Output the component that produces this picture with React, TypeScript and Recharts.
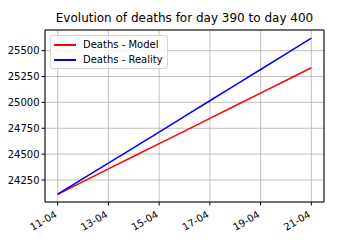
import { LineChart, Line, XAxis, YAxis, CartesianGrid, ReferenceLine } from "recharts";

const dates = ["11-04", "12-04", "13-04", "14-04", "15-04", "16-04", "17-04", "18-04", "19-04", "20-04", "21-04"];
const model = [24112, 24234, 24357, 24479, 24601, 24723, 24846, 24968, 25090, 25212, 25335];
const reality = [24112, 24262, 24412, 24562, 24712, 24864, 25016, 25168, 25318, 25470, 25622];
const xTicks = [0, 2, 4, 6, 8, 10];
const yTicks = [24250, 24500, 24750, 25000, 25250, 25500];

const data = dates.map((d, i) => ({ idx: i, date: d, model: model[i], reality: reality[i] }));

const font = "'DejaVu Sans', sans-serif";

function DateTick(props: any) {
    const { x, y, payload } = props;
    return (
        <text
            transform={`translate(${x},${y + 9}) rotate(-30)`}
            textAnchor="end"
            fontSize={10}
            fontFamily={font}
            fill="#000"
        >
            {dates[payload.value]}
        </text>
    );
}

function LegendBox() {
    const rows = [
        { label: "Deaths - Model", color: "#ff0000" },
        { label: "Deaths - Reality", color: "#0000ff" },
    ];
    return (
        <div
            style={{
                position: "absolute",
                left: 50,
                top: 35,
                border: "1px solid #d6d6d6",
                borderRadius: 3,
                background: "rgba(255,255,255,0.8)",
                padding: "1px 4px 1px 3px",
                fontFamily: font,
                fontSize: 10,
                lineHeight: "15px",
                whiteSpace: "nowrap",
            }}
        >
            {rows.map((r) => (
                <div key={r.label} style={{ display: "flex", alignItems: "center" }}>
                    <span style={{ display: "inline-block", width: 22, height: 2, background: r.color, marginRight: 7 }} />
                    <span>{r.label}</span>
                </div>
            ))}
        </div>
    );
}

export default function App() {
    return (
        <div style={{ position: "fixed", left: 0, top: 0, width: 360, height: 252, background: "#fff" }}>
            <div
                style={{
                    position: "absolute",
                    left: 45,
                    width: 279,
                    top: 11,
                    textAlign: "center",
                    fontFamily: font,
                    fontSize: 12,
                    color: "#000",
                }}
            >
                Evolution of deaths for day 390 to day 400
            </div>
            <LineChart width={360} height={252} data={data} margin={{ top: 30, right: 36, left: 0, bottom: 0 }}>
                <CartesianGrid stroke="#b0b0b0" strokeWidth={0.8} />
                <XAxis
                    dataKey="idx"
                    type="number"
                    domain={[-0.5, 10.5]}
                    ticks={xTicks}
                    height={50}
                    tick={<DateTick />}
                    tickSize={3.5}
                    axisLine={{ stroke: "#000" }}
                    tickLine={{ stroke: "#000" }}
                    interval={0}
                />
                <YAxis
                    type="number"
                    domain={[24037, 25700]}
                    ticks={yTicks}
                    width={45}
                    tickSize={3.5}
                    axisLine={{ stroke: "#000" }}
                    tickLine={{ stroke: "#000" }}
                    tick={{ fontSize: 10, fontFamily: font, fill: "#000" }}
                    interval={0}
                />
                <ReferenceLine y={25700} stroke="#000" />
                <ReferenceLine x={10.5} stroke="#000" />
                <Line type="linear" dataKey="model" stroke="#ff0000" strokeWidth={1.5} dot={false} isAnimationActive={false} />
                <Line type="linear" dataKey="reality" stroke="#0000ff" strokeWidth={1.5} dot={false} isAnimationActive={false} />
            </LineChart>
            <LegendBox />
        </div>
    );
}
